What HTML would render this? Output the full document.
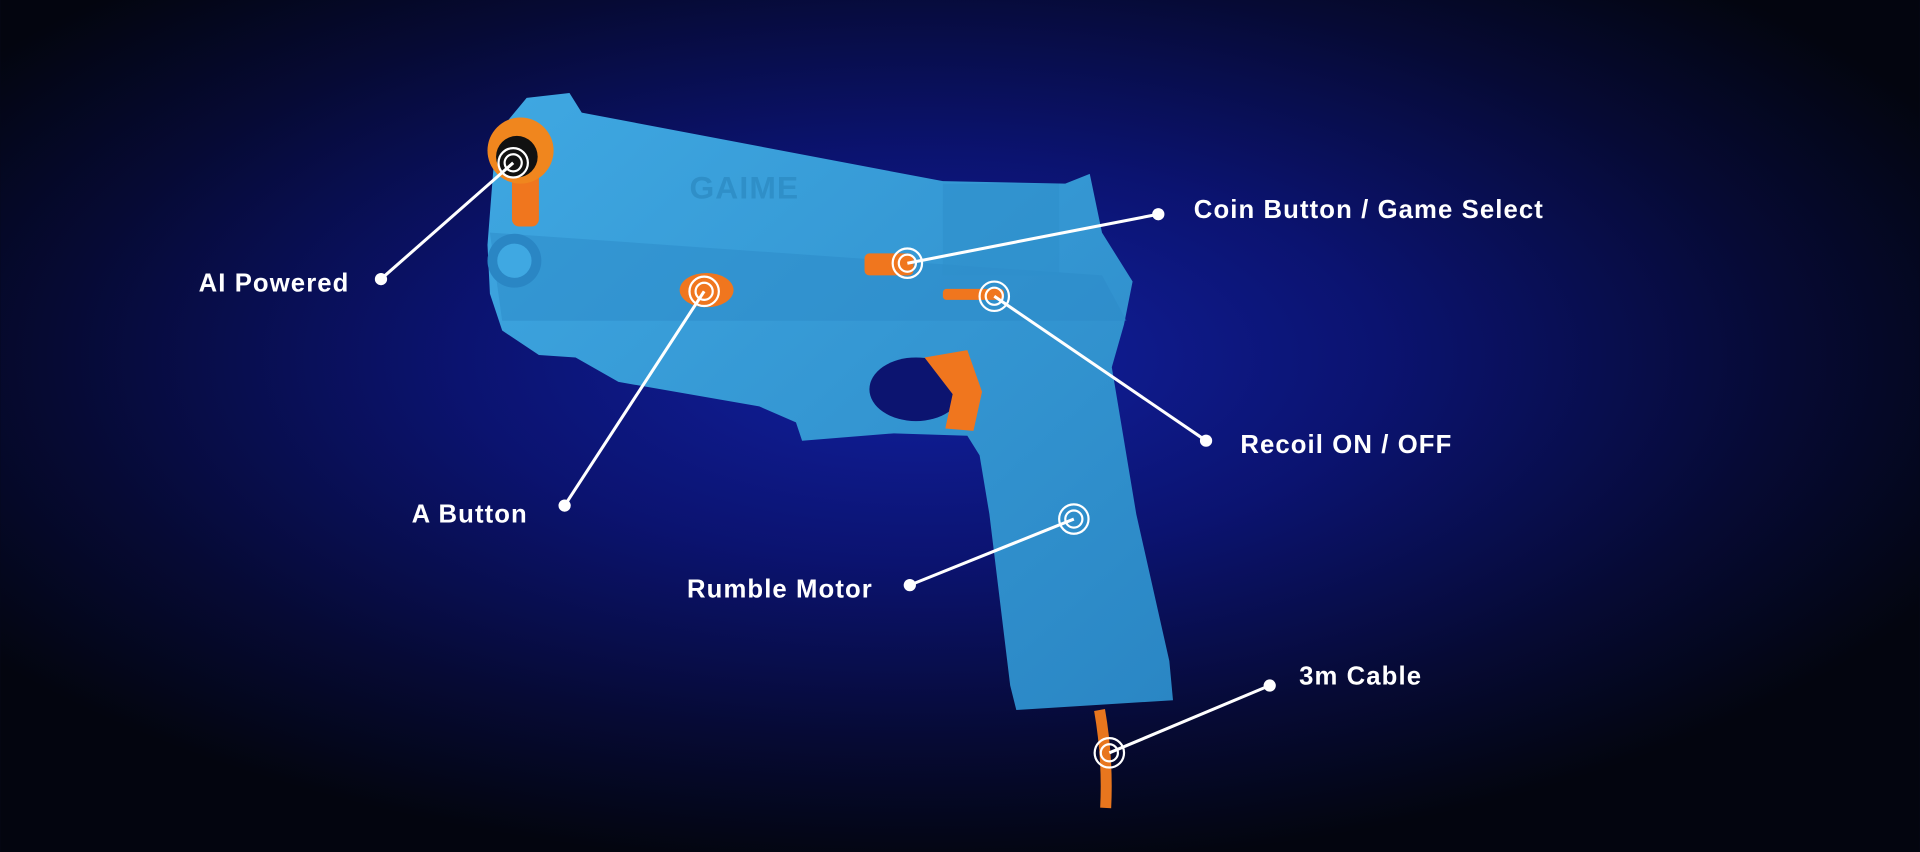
<!DOCTYPE html>
<html><head><meta charset="utf-8"><style>
html,body{margin:0;padding:0;background:#05071a;}
svg{display:block}
text{font-family:"Liberation Sans",sans-serif;font-weight:bold;fill:#fff;font-size:21px;letter-spacing:0.9px}
</style></head><body>
<svg width="1920" height="852" viewBox="0 0 1568 696" xmlns="http://www.w3.org/2000/svg">
<defs>
<radialGradient id="bg" cx="0.48" cy="0.42" r="0.6">
<stop offset="0" stop-color="#1120a0"/>
<stop offset="0.4" stop-color="#0b1370"/>
<stop offset="0.75" stop-color="#060a34"/>
<stop offset="1" stop-color="#03050f"/>
</radialGradient>
<linearGradient id="gun" x1="0" y1="0" x2="1" y2="1">
<stop offset="0" stop-color="#3fa8e2"/>
<stop offset="1" stop-color="#2a86c4"/>
</linearGradient>
</defs>
<rect width="1568" height="696" fill="url(#bg)"/>
<!-- gun -->
<path d="M405 110 L430 80 L465 76 L475 92 L770 148 L870 150 L890 142 L900 190 L925 230 L918 265 L908 300 L928 420 L955 540 L958 572 L830 580 L825 560 L808 420 L800 372 L790 356 L730 354 L655 360 L650 345 L620 332 L505 312 L470 292 L440 290 L410 270 L400 240 L398 200 Z" fill="url(#gun)"/>
<path d="M400 190 L900 225 L920 262 L410 262 Z" fill="#2b8ac8" opacity="0.5"/>
<rect x="770" y="150" width="95" height="75" fill="#2f90cc" opacity="0.6"/>
<ellipse cx="748" cy="318" rx="38" ry="26" fill="#0c1470"/>
<path d="M755 292 L790 286 L802 320 L795 352 L772 350 L778 322 Z" fill="#f0761e"/>
<circle cx="420" cy="213" r="22" fill="#2a86c4"/>
<circle cx="420" cy="213" r="14" fill="#3fa8e2"/>
<rect x="418" y="140" width="22" height="45" rx="6" fill="#f0761e"/>
<circle cx="425" cy="123" r="27" fill="#f0861e"/>
<circle cx="422" cy="128" r="17" fill="#111"/>
<ellipse cx="577" cy="237" rx="22" ry="14" fill="#f0761e"/>
<rect x="706" y="207" width="40" height="18" rx="4" fill="#f0761e"/>
<rect x="770" y="236" width="50" height="9" rx="3" fill="#f0761e"/>
<path d="M898 580 Q905 620 903 660" stroke="#e8761e" stroke-width="9" fill="none"/>
<text x="563" y="162" style="font-size:26px;fill:#2f8fc8">GAIME</text>
<!-- connectors -->
<g stroke="#fff" stroke-width="2.5" fill="none">
<line x1="311" y1="228" x2="419" y2="133"/>
<line x1="461" y1="413" x2="575" y2="238"/>
<line x1="946" y1="175" x2="741" y2="215"/>
<line x1="985" y1="360" x2="812" y2="242"/>
<line x1="743" y1="478" x2="877" y2="424"/>
<line x1="1037" y1="560" x2="906" y2="615"/>
</g>
<g stroke="#fff" stroke-width="1.8" fill="none">
<circle cx="419" cy="133" r="12"/><circle cx="419" cy="133" r="7"/>
<circle cx="575" cy="238" r="12"/><circle cx="575" cy="238" r="7"/>
<circle cx="741" cy="215" r="12"/><circle cx="741" cy="215" r="7"/>
<circle cx="812" cy="242" r="12"/><circle cx="812" cy="242" r="7"/>
<circle cx="877" cy="424" r="12"/><circle cx="877" cy="424" r="7"/>
<circle cx="906" cy="615" r="12"/><circle cx="906" cy="615" r="7"/>
</g>
<g fill="#fff">
<circle cx="311" cy="228" r="5"/><circle cx="461" cy="413" r="5"/>
<circle cx="946" cy="175" r="5"/><circle cx="985" cy="360" r="5"/>
<circle cx="743" cy="478" r="5"/><circle cx="1037" cy="560" r="5"/>
</g>
<text x="162" y="238">AI Powered</text>
<text x="336" y="427">A Button</text>
<text x="975" y="178">Coin Button / Game Select</text>
<text x="1013" y="370">Recoil ON / OFF</text>
<text x="561" y="488">Rumble Motor</text>
<text x="1061" y="559">3m Cable</text>
</svg>
</body></html>
